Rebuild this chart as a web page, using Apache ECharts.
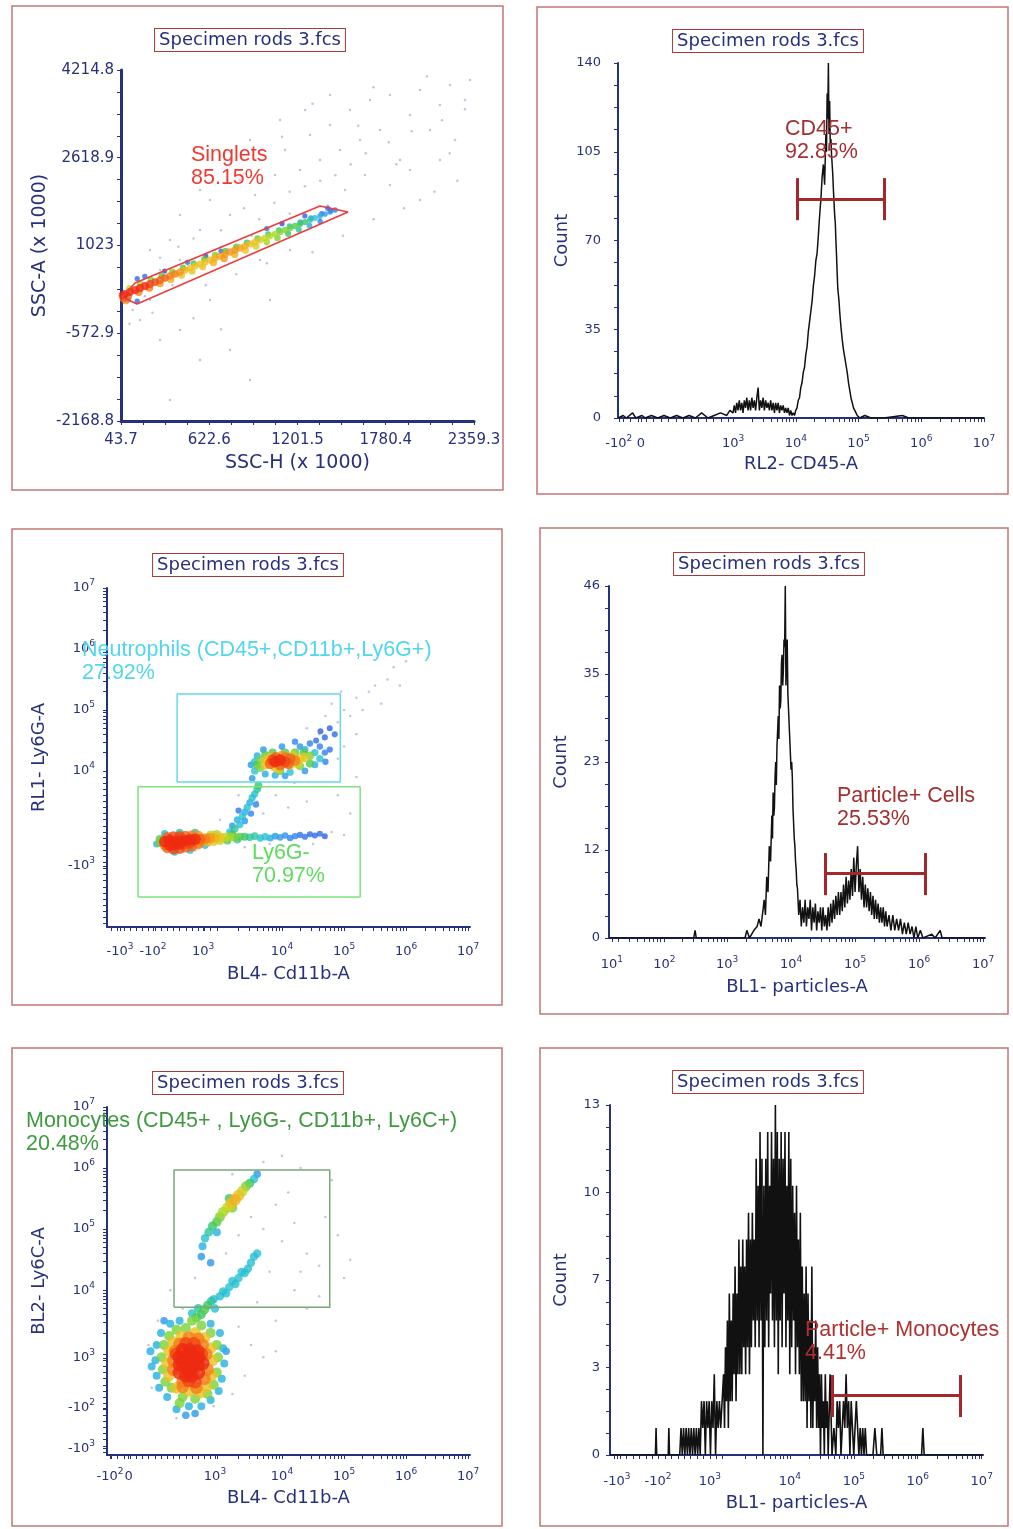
<!DOCTYPE html>
<html>
<head>
<meta charset="utf-8">
<title>Specimen rods 3.fcs</title>
<script src="https://cdn.jsdelivr.net/npm/echarts@6/dist/echarts.min.js"></script>
<style>
  html, body { margin: 0; padding: 0; background: #fff; }
  #main { width: 1013px; height: 1529px; }
</style>
</head>
<body>
<div id="main"></div>
<script>
// ---- panel 1: singlets (SSC-H vs SSC-A, x1000) ----
const p1XTicks = [43.7, 622.6, 1201.5, 1780.4, 2359.3];
const p1XLabels = ['43.7', '622.6', '1201.5', '1780.4', '2359.3'];
const p1YTicks = [-2168.8, -572.9, 1023, 2618.9, 4214.8];
const p1YLabels = ['-2168.8', '-572.9', '1023', '2618.9', '4214.8'];
// [SSC-H, SSC-A, density]
const singletBand = [
  [55,120,1],[70,140,1],[136,213,1],[201,285,1],[267,358,0.95],[332,431,0.9],[398,504,0.85],[463,576,0.75],
  [529,649,0.7],[595,722,0.7],[660,794,0.75],[726,868,0.8],[792,941,0.8],[857,1013,0.75],[923,1086,0.7],
  [988,1158,0.6],[1054,1231,0.55],[1120,1304,0.5],[1185,1377,0.45],[1251,1450,0.4],[1316,1522,0.3],
  [1382,1595,0.2],[1448,1668,0.15],
  [103,176,1],[168,249,1],[234,322,0.95],[300,395,0.9],[365,467,0.85],[431,540,0.8],[496,613,0.7],
  [562,686,0.7],[628,758,0.72],[693,831,0.78],[759,904,0.8],[825,977,0.78],[890,1050,0.72],[956,1122,0.65],
  [1021,1195,0.58],[1087,1268,0.52],[1152,1340,0.48],[1218,1413,0.42],[1284,1486,0.35],[1349,1559,0.25],
  [1415,1631,0.18],
  [100,245,0.6],[170,320,0.55],[240,395,0.5],[310,470,0.45],[380,545,0.5],[450,620,0.45],[520,700,0.4],
  [590,775,0.45],[660,850,0.5],[730,925,0.45],[800,1000,0.45],[870,1075,0.4],[940,1150,0.45],[1010,1225,0.4],
  [1080,1300,0.35],[1150,1375,0.3],[1220,1450,0.25],[1290,1520,0.2],[1360,1600,0.12],[1420,1660,0.1],
  [90,100,0.9],[160,175,0.85],[230,250,0.85],[300,330,0.8],[370,405,0.75],[440,480,0.7],[510,555,0.7],
  [580,635,0.7],[650,710,0.75],[720,785,0.8],[790,860,0.75],[860,935,0.7],[930,1010,0.65],[1000,1085,0.55],
  [1070,1160,0.5],[1140,1235,0.4],[1210,1310,0.35],[1280,1385,0.25],[1350,1460,0.15],
  [60,60,0.9],[75,20,0.8],[150,420,0.1],[200,460,0.1],[480,720,0.15],[700,920,0.1],[1000,1330,0.1],[1250,1560,0.08],
  [1400,1700,0.08],[90,30,0.15],[150,10,0.1],[330,560,0.05],[600,830,0.05],[1100,1420,0.05]
];
const p1Sparse = [
  [234,940],[365,1122],[431,1577],[562,1304],[628,1850],[759,1577],[824,2214],[923,1941],[956,2578],
  [1054,2305],[1120,2760],[1218,2396],[1284,3032],[1349,2578],[1415,3214],[1480,2760],[1546,3487],
  [1612,2941],[1677,3669],[1743,3123],[1808,3760],[1874,2578],[1940,3396],[2005,3851],[2071,3123],
  [2136,3578],[2202,3942],[2235,2941],[2300,3669],[1218,1304],[1349,1486],[1513,2032],[1644,2305],
  [1808,2123],[1940,2396],[1087,3305],[890,2941],[759,2578],[562,2032],[431,758],[300,577],[168,-333],
  [300,-696],[431,-515],[562,-1060],[759,-878],[890,-1424],[365,-1788],[628,31],[956,758],[1152,940],
  [1021,31],[234,31],[2136,2578],[2333,4033],[1415,3760],[1251,3487],[660,940],[2005,1850],
  [100,-400],[250,-200],[600,300],[800,500],[1000,700],[1300,900],[1500,1200],[1700,1500],[1900,1700],
  [2100,2000],[2250,2200],[1600,3200],[1150,2000],[950,1500],
  [300,800],[420,1000],[520,1150],[700,1300],[850,1700],[1050,1800],[1250,2100],[1450,2300],[1650,2700],
  [1800,2900],[1950,3100],[2150,3300],[2300,3500],[1550,2500],[1350,2200],[1150,1600],[900,1200],
  [700,1000],[480,700],[380,300],[200,100],[120,-150],[520,-300],[700,-500],[1100,3000],[1300,3600],
  [1700,3900],[2050,4100],[1850,2500],[2200,2700],[1400,1750],[1000,1050]
];
const singletGate = [[50.3,85.7],[135.5,340.3],[1349,1741],[1533,1632],[148.7,-41.7]];

// ---- panel 2: CD45 histogram (x in display decades) ----
const p2XTicks = [1.18, 1.53, 3, 4, 5, 6, 7];
const p2XLabels = ['-10^2', '0', '10^3', '10^4', '10^5', '10^6', '10^7'];
const p2YTicks = [0, 35, 70, 105, 140];
const p2YLabels = ['0', '35', '70', '105', '140'];
const cd45Hist = [
  [1.17,0],[1.25,1],[1.3,0],[1.4,2],[1.45,0],[1.55,1],[1.6,0],[1.7,1],[1.8,0],[1.9,1],[2.0,0],[2.1,1],
  [2.2,0],[2.3,1],[2.4,0],[2.5,2],[2.6,0],[2.7,1],[2.8,2],[2.9,1],[2.95,3],
  [3.0,2],[3.02,5],[3.04,2],[3.06,6],[3.08,3],[3.1,7],[3.12,3],[3.14,6],[3.16,2],[3.18,7],[3.2,4],
  [3.22,8],[3.24,3],[3.26,7],[3.28,3],[3.3,8],[3.32,4],[3.34,7],[3.36,3],[3.38,8],[3.4,12],[3.42,3],
  [3.44,7],[3.46,4],[3.48,8],[3.5,3],[3.52,7],[3.54,4],[3.56,6],[3.58,3],[3.6,7],[3.62,3],[3.64,6],
  [3.66,2],[3.68,6],[3.7,3],[3.72,6],[3.74,2],[3.76,5],[3.78,3],[3.8,5],[3.82,2],[3.84,4],[3.86,2],
  [3.88,4],[3.9,1],[3.92,3],[3.94,1],
  [3.96,2],[3.98,1],[4.0,3],[4.02,4],[4.04,7],[4.06,8],[4.08,12],[4.1,14],[4.12,18],[4.14,20],[4.16,25],
  [4.18,28],[4.2,34],[4.22,38],[4.24,42],[4.26,46],[4.28,52],[4.3,56],[4.32,62],[4.34,65],[4.36,72],
  [4.37,76],[4.39,83],[4.4,86],[4.42,95],[4.44,100],[4.46,92],[4.48,112],[4.49,105],[4.5,128],[4.51,118],
  [4.52,140],[4.53,112],[4.54,125],[4.55,108],[4.56,110],[4.57,104],[4.58,100],[4.59,96],[4.6,90],
  [4.61,85],[4.62,80],[4.63,77],[4.64,70],[4.65,64],[4.66,57],[4.67,51],[4.69,46],[4.7,42],[4.72,36],
  [4.74,31],[4.76,27],[4.78,24],[4.8,21],[4.82,18],[4.84,14],[4.86,11],[4.88,8],[4.9,6],[4.92,4],
  [4.94,3],[4.96,2],[4.98,1],[5.02,0],[5.1,1],[5.2,0],[5.4,0],[5.7,1],[5.8,0],[6.2,0],[7.0,0]
];
const cd45Gate = [4.02, 5.41, 86.4, 78, 94.6]; // from, to, level, capLow, capHigh

// ---- panel 3: Ly6G vs Cd11b ----
const p3XTicks = [1.39, 1.92, 2.73, 4, 5, 6, 7];
const p3XLabels = ['-10^3', '-10^2', '10^3', '10^4', '10^5', '10^6', '10^7'];
const p3YTicks = [2.44, 4, 5, 6, 7];
const p3YLabels = ['-10^3', '10^4', '10^5', '10^6', '10^7'];
const neutroDots = [
  [2.11,2.84,1],[2.19,2.86,1],[2.27,2.84,1],[2.35,2.85,1],[2.44,2.86,1],[2.52,2.87,1],[2.60,2.88,1],
  [2.19,2.78,1],[2.27,2.79,1],[2.35,2.80,1],[2.44,2.81,0.95],[2.52,2.82,0.95],[2.68,2.88,0.9],[2.76,2.89,0.85],
  [2.15,2.74,0.9],[2.25,2.72,0.95],[2.35,2.73,0.95],[2.45,2.75,0.9],[2.55,2.77,0.9],[2.65,2.80,0.85],
  [2.15,2.91,0.9],[2.25,2.92,0.95],[2.35,2.92,0.95],[2.45,2.93,0.9],[2.55,2.94,0.85],[2.65,2.94,0.8],
  [2.84,2.90,0.8],[2.92,2.90,0.75],[3.0,2.91,0.7],[2.68,2.83,0.8],[2.11,2.79,0.85],[2.8,2.84,0.75],
  [2.9,2.85,0.7],[3.0,2.86,0.6],[2.85,2.95,0.6],[2.95,2.96,0.55],
  [3.08,2.91,0.6],[3.16,2.92,0.55],[3.24,2.91,0.5],[3.32,2.92,0.45],[2.03,2.82,0.5],[2.03,2.88,0.45],
  [3.12,2.86,0.45],[3.2,2.96,0.4],[3.28,2.87,0.35],
  [3.40,2.92,0.4],[3.48,2.91,0.35],[3.56,2.93,0.35],[3.65,2.90,0.3],[3.73,2.92,0.3],[3.81,2.90,0.25],
  [3.89,2.93,0.2],[3.97,2.91,0.2],[4.05,2.94,0.18],[4.13,2.90,0.15],[4.21,2.93,0.15],[4.29,2.95,0.12],
  [4.37,2.92,0.12],[4.45,2.96,0.1],[4.53,2.94,0.1],[4.61,2.97,0.1],[4.69,2.93,0.08],
  [2.11,2.97,0.3],[2.35,2.99,0.35],[2.60,2.99,0.35],[2.27,2.67,0.3],[2.52,2.70,0.3],[2.76,2.78,0.3],[1.98,2.8,0.25],
  [3.16,3.0,0.3],[3.24,3.05,0.35],[3.32,3.12,0.3],[3.28,3.2,0.25],[3.36,3.25,0.3],[3.40,3.32,0.25],
  [3.44,3.4,0.3],[3.48,3.48,0.25],[3.52,3.56,0.3],[3.56,3.62,0.3],[3.60,3.70,0.35],[3.62,3.76,0.4],
  [3.40,3.18,0.2],[3.50,3.30,0.15],[3.30,3.35,0.12],[3.58,3.45,0.15],[3.20,3.10,0.2],
  [3.89,4.15,1],[3.97,4.18,1],[4.05,4.15,0.95],[4.13,4.20,0.9],[3.81,4.12,0.9],[4.21,4.17,0.85],
  [3.97,4.10,0.9],[4.05,4.22,0.85],[3.9,4.22,0.9],[4.1,4.12,0.9],[3.85,4.18,0.95],[4.0,4.25,0.8],
  [3.73,4.10,0.7],[4.29,4.20,0.7],[4.37,4.22,0.65],[3.81,4.22,0.7],[4.13,4.10,0.7],[3.89,4.06,0.7],
  [3.75,4.18,0.7],[4.25,4.12,0.65],[4.18,4.26,0.65],[3.95,4.03,0.65],
  [3.65,4.05,0.5],[3.65,4.18,0.5],[4.45,4.25,0.5],[4.45,4.12,0.45],[4.29,4.08,0.5],[3.73,4.26,0.45],
  [4.05,4.30,0.45],[4.21,4.30,0.45],[3.97,4.00,0.45],[3.85,4.30,0.45],[4.35,4.30,0.45],[3.6,4.1,0.45],
  [3.56,4.00,0.3],[3.56,4.15,0.3],[3.60,4.25,0.25],[4.53,4.30,0.3],[4.61,4.20,0.3],[4.53,4.10,0.25],
  [4.37,4.35,0.25],[4.29,4.40,0.2],[4.45,4.45,0.15],[4.61,4.40,0.15],[4.69,4.30,0.15],[4.77,4.35,0.12],
  [3.73,3.95,0.25],[3.89,3.93,0.25],[4.13,3.98,0.3],[4.37,4.00,0.2],[3.52,3.88,0.2],[4.21,4.48,0.15],
  [4.69,4.55,0.1],[4.85,4.60,0.1],[4.77,4.70,0.08],[3.5,4.1,0.2],[4.7,4.15,0.15],[4.05,3.92,0.2],
  [3.7,4.35,0.2],[4.0,4.4,0.2],[4.55,4.5,0.1],[4.62,4.65,0.08]
];
const p3Sparse = [
  [4.9,4.8],[5.0,5.0],[4.8,5.1],[5.1,4.9],[5.2,5.2],[5.3,5.0],[4.95,5.3],[5.4,5.3],[5.6,5.1],[5.5,5.4],
  [5.7,5.5],[4.7,4.9],[4.6,4.6],[5.0,4.4],[4.9,4.2],[5.2,4.6],[3.9,3.6],[4.2,3.8],[3.7,3.3],[4.4,3.5],
  [3.0,3.2],[2.9,3.0],[4.8,3.0],[5.0,2.95],[4.5,2.8],[2.4,3.0],[2.6,2.7],[3.4,2.75],[3.8,2.8],[5.2,3.9],
  [5.8,5.7],[4.4,4.7],[3.6,3.5],[4.1,3.4],[4.9,3.6],[5.1,3.3],[3.3,3.6],[5.9,5.4],[6.0,5.8]
];
const neutroGate = [2.31, 4.94, 3.82, 5.26];   // x1, x2, y1, y2
const ly6gNegGate = [1.68, 5.26, 1.93, 3.74];

// ---- panel 4: particles histogram (all cells) ----
const p4XTicks = [1.2, 2.02, 3, 4, 5, 6, 7];
const p4XLabels = ['10^1', '10^2', '10^3', '10^4', '10^5', '10^6', '10^7'];
const p4YTicks = [0, 11.5, 23, 34.5, 46];
const p4YLabels = ['0', '12', '23', '35', '46'];
const particleHist = [
  [1.16,0],[2.2,0],[2.48,0],[2.5,1],[2.52,0],[3.28,0],[3.31,1],[3.35,0],[3.42,1],[3.47,1.5],[3.5,2.5],
  [3.53,1.5],[3.56,3.5],[3.58,5],[3.6,3],[3.62,8],[3.64,6],[3.66,12],[3.68,10],[3.7,16],[3.71,13],[3.72,19],
  [3.73,16],[3.74,17],[3.75,21],[3.76,23],[3.77,20],[3.78,25],[3.79,27],[3.8,29],[3.81,26],[3.82,33],
  [3.83,30],[3.84,31],[3.85,36],[3.86,37],[3.87,33],[3.88,35],[3.89,39],[3.9,38],[3.91,46],[3.92,33],
  [3.93,36],[3.94,39],[3.95,32],[3.96,30],[3.97,28],[3.98,26],[3.99,24],[4.0,22],[4.01,23],[4.02,21],
  [4.03,17],[4.04,15],[4.05,13],[4.06,12],[4.07,10],[4.08,9],[4.09,7],[4.1,6.5],
  [4.12,3],[4.14,5],[4.16,1.5],[4.18,4],[4.2,2],[4.22,5],[4.24,1.5],[4.26,4],[4.28,2.5],[4.3,5],[4.32,1],
  [4.34,4],[4.36,2],[4.38,4.5],[4.4,1],[4.42,3.5],[4.44,2],[4.46,4],[4.48,1],[4.5,4],[4.52,1.5],[4.54,3],
  [4.56,1],[4.58,4],[4.6,1.5],[4.62,4.5],[4.64,2],[4.66,5],[4.68,2.5],[4.7,5.5],[4.72,3],[4.74,6],[4.76,3],
  [4.78,6],[4.8,3.5],[4.82,7],[4.84,4],[4.86,8],[4.88,4.5],[4.9,7.5],[4.92,5],[4.94,9],[4.96,5.5],
  [4.98,10.5],[5.0,6],[5.02,9.5],[5.04,12],[5.06,6],[5.08,9],[5.1,5],[5.12,8],[5.14,4],[5.16,7],[5.18,4],
  [5.2,6.5],[5.22,3.5],[5.24,6],[5.26,3],[5.28,5.5],[5.3,2.5],[5.32,5],[5.34,2.5],[5.36,4.5],[5.38,2],
  [5.4,4],[5.42,2],[5.44,4],[5.46,1.5],[5.48,3.5],[5.5,1.5],[5.53,3],[5.56,1],[5.59,3],[5.62,1],[5.65,2.5],
  [5.68,1],[5.71,2.5],[5.74,0.5],[5.77,2],[5.8,0.5],[5.83,2],[5.86,0.5],[5.89,1.5],[5.92,0],[5.95,1.5],
  [5.98,0],[6.02,1],[6.06,0],[6.2,0.5],[6.25,0],[6.33,1],[6.36,0],[7.03,0]
];
const particleGate = [4.53, 6.09, 8.5, 5.6, 11.1];

// ---- panel 5: Ly6C vs Cd11b ----
const p5XTicks = [1.23, 1.53, 2.92, 4, 5, 6, 7];
const p5XLabels = ['-10^2', '0', '10^3', '10^4', '10^5', '10^6', '10^7'];
const p5YTicks = [1.41, 2.07, 2.89, 4, 5, 6, 7];
const p5YLabels = ['-10^3', '-10^2', '10^3', '10^4', '10^5', '10^6', '10^7'];
const monoDots = [
  [2.35,2.65,1],[2.45,2.6,1],[2.55,2.6,1],[2.65,2.65,1],[2.35,2.78,1],[2.45,2.75,1],[2.55,2.75,1],
  [2.65,2.78,1],[2.72,2.8,1],[2.35,2.9,1],[2.45,2.9,1],[2.55,2.9,1],[2.65,2.9,1],[2.4,3.02,1],
  [2.52,3.02,1],[2.64,3.0,1],[2.45,3.12,0.95],[2.58,3.12,0.95],[2.5,2.52,0.95],[2.6,2.5,0.95],
  [2.5,2.68,1],[2.6,2.83,1],[2.4,2.84,1],[2.5,2.96,1],[2.7,2.95,0.95],[2.3,2.95,0.95],
  [2.25,2.7,0.85],[2.25,2.85,0.85],[2.28,3.0,0.85],[2.35,3.12,0.85],[2.72,3.1,0.85],[2.78,2.95,0.85],
  [2.8,2.7,0.85],[2.75,2.55,0.85],[2.4,2.5,0.85],[2.5,3.22,0.85],[2.65,3.2,0.85],[2.4,2.42,0.85],[2.62,2.4,0.85],
  [2.18,2.6,0.7],[2.15,2.8,0.7],[2.18,3.0,0.7],[2.25,3.15,0.7],[2.38,3.25,0.7],[2.6,3.3,0.7],[2.75,3.22,0.7],
  [2.85,3.05,0.7],[2.88,2.85,0.7],[2.86,2.6,0.7],[2.78,2.42,0.7],[2.3,2.4,0.7],[2.5,2.35,0.7],[2.68,2.32,0.7],
  [2.08,2.7,0.5],[2.06,2.9,0.5],[2.1,3.1,0.5],[2.18,3.25,0.5],[2.3,3.35,0.5],[2.45,3.38,0.5],[2.7,3.42,0.5],
  [2.85,3.3,0.5],[2.95,3.1,0.5],[2.97,2.9,0.5],[2.95,2.65,0.5],[2.9,2.45,0.5],[2.8,2.3,0.5],[2.6,2.22,0.5],
  [2.4,2.25,0.5],[2.22,2.4,0.5],[2.12,2.5,0.5],[2.55,3.5,0.5],[2.35,2.15,0.5],
  [1.98,2.6,0.25],[1.96,2.85,0.25],[1.98,3.1,0.25],[2.05,3.3,0.25],[2.2,3.45,0.25],[2.35,3.5,0.25],
  [2.85,3.45,0.25],[3.0,3.3,0.25],[3.05,3.05,0.25],[3.07,2.8,0.25],[3.03,2.55,0.25],[2.98,2.35,0.25],
  [2.85,2.2,0.25],[2.7,2.1,0.25],[2.5,2.1,0.25],[2.3,2.05,0.25],[2.15,2.25,0.25],[2.02,2.4,0.25],
  [1.9,2.75,0.25],[1.88,3.0,0.25],[2.45,1.95,0.2],[2.6,1.98,0.2],[3.1,3.0,0.2],[2.1,3.5,0.2],
  [2.62,3.55,0.45],[2.7,3.6,0.4],[2.75,3.68,0.45],[2.65,3.7,0.35],[2.8,3.75,0.4],[2.86,3.82,0.35],
  [2.55,3.62,0.3],[2.92,3.7,0.3],
  [2.90,3.85,0.3],[3.0,3.90,0.3],[3.05,3.98,0.3],[3.15,4.05,0.3],[3.20,4.15,0.3],[3.30,4.20,0.3],
  [3.35,4.30,0.3],[3.45,4.35,0.3],[3.50,4.45,0.3],[3.55,4.55,0.3],[3.60,4.60,0.3],[3.10,3.95,0.3],
  [3.25,4.10,0.3],[3.40,4.28,0.3],
  [2.76,4.85,0.3],[2.82,4.95,0.35],[2.88,5.05,0.4],[2.95,5.12,0.45],[3.0,5.2,0.5],[3.05,5.28,0.55],
  [3.12,5.35,0.6],[3.18,5.42,0.7],[3.24,5.48,0.75],[3.30,5.55,0.7],[3.36,5.62,0.6],[3.42,5.70,0.5],
  [3.48,5.75,0.4],[3.55,5.82,0.3],[3.60,5.90,0.2],[2.72,4.72,0.25],[2.95,4.95,0.25],[3.2,5.35,0.5],
  [3.15,5.5,0.4],[2.7,4.55,0.2],[2.85,4.45,0.2]
];
const p5Sparse = [
  [3.3,4.9],[3.5,5.2],[3.7,5.0],[3.9,5.4],[4.0,4.8],[4.2,5.1],[4.1,5.6],[4.4,4.6],[3.8,4.3],[4.2,4.0],
  [4.6,4.4],[3.6,3.8],[3.9,3.5],[3.3,3.4],[4.4,3.7],[4.7,5.2],[4.9,4.9],[5.1,4.5],[3.4,2.6],[3.7,2.9],
  [3.9,3.0],[2.0,3.5],[1.9,2.4],[2.3,1.9],[2.9,2.1],[1.85,3.1],[3.2,5.9],[3.7,6.1],[4.3,6.0],[4.0,6.2],
  [4.8,5.8],[5.0,4.2],[2.4,3.7],[2.2,4.0],[4.3,4.3],[3.5,3.1],[3.2,2.3],[4.6,3.9],[3.1,4.6],[2.6,4.2]
];
const monoGate = [2.26, 4.77, 3.72, 5.97];

// ---- panel 6: particles histogram (monocytes) ----
const p6XTicks = [1.30, 1.94, 2.75, 4, 5, 6, 7];
const p6XLabels = ['-10^3', '-10^2', '10^3', '10^4', '10^5', '10^6', '10^7'];
const p6YTicks = [0, 3.25, 6.5, 9.75, 13];
const p6YLabels = ['0', '3', '7', '10', '13'];
const monoHist = [
  [1.19,0],[1.9,0],[1.91,1],[1.92,0],[2.1,0],[2.11,1],[2.12,0],
  [2.28,0],[2.30,1],[2.32,0],[2.34,1],[2.36,0],[2.38,1],[2.40,0],[2.42,1],[2.44,0],[2.46,1],[2.48,0],
  [2.50,1],[2.52,0],[2.54,1],[2.56,0],[2.58,1],[2.60,0],[2.62,2],[2.64,1],[2.66,2],[2.68,0],[2.70,2],
  [2.72,1],[2.74,2],[2.76,0],[2.78,2],[2.80,1],[2.82,3],[2.84,0],[2.86,2],[2.88,1],[2.90,2],[2.92,1],
  [2.950,1],[2.965,3],[2.980,1],[2.995,4],[3.010,2],[3.025,5],[3.040,1],[3.055,6],[3.070,2],[3.085,5],
  [3.100,2],[3.115,6],[3.130,3],[3.145,7],[3.160,2],[3.175,6],[3.190,3],[3.205,8],[3.220,3],[3.235,7],
  [3.250,3],[3.265,8],[3.280,4],[3.295,7],[3.310,3],[3.325,8],[3.340,4],[3.355,9],[3.370,3],[3.385,8],
  [3.400,4],[3.415,9],[3.430,5],[3.445,8],[3.460,4],[3.475,11],[3.490,5],[3.505,10],[3.520,4],[3.535,12],
  [3.550,5],[3.565,11],[3.580,0],[3.595,10],[3.610,4],[3.625,11],[3.640,5],[3.655,12],[3.670,4],[3.685,10],
  [3.700,6],[3.715,12],[3.730,5],[3.745,11],[3.760,4],[3.775,13],[3.790,5],[3.805,12],[3.820,3],[3.835,11],
  [3.850,5],[3.865,12],[3.880,4],[3.895,11],[3.910,6],[3.925,12],[3.940,4],[3.955,10],[3.970,5],[3.985,12],
  [4.000,3],[4.015,11],[4.030,4],[4.045,10],[4.060,5],[4.075,9],[4.090,3],[4.105,10],[4.120,4],[4.135,8],
  [4.150,3],[4.165,9],[4.180,2],[4.195,7],[4.210,2],[4.225,6],[4.240,2],[4.255,7],[4.270,1],[4.285,6],
  [4.300,2],[4.315,5],[4.330,1],[4.345,7],[4.360,1],[4.375,4],[4.390,2],[4.405,5],[4.420,1],[4.435,4],
  [4.450,1],[4.465,3],[4.480,0],[4.495,3],[4.510,1],[4.525,2],[4.540,0],[4.555,3],[4.570,1],[4.585,2],
  [4.600,0],[4.63,3],[4.66,0],[4.69,1],[4.72,0],[4.74,2],[4.76,1],[4.78,2],[4.80,0],[4.82,1],[4.84,2],
  [4.86,1],[4.88,3],[4.90,1],[4.92,2],[4.94,0],[4.96,2],[4.98,1],[5.00,0],[5.02,1],[5.04,2],[5.06,1],
  [5.08,0],[5.10,1],[5.12,0],[5.14,1],[5.16,0],[5.18,1],[5.20,0],[5.23,0],[5.30,0],[5.33,1],[5.36,0],
  [5.42,0],[5.44,1],[5.46,0],[6.06,0],[6.08,1],[6.10,0],[7.02,0]
];
const monoParticleGate = [4.66, 6.66, 2.23, 1.41, 2.97];

// ---------------------------------------------------------------
const NAVY = '#27307a';
const FONT = 'DejaVu Sans';

function linMinors(ticks, parts) {
  let out = [];
  for (let i = 0; i < ticks.length - 1; i++) {
    for (let j = 1; j < parts; j++) out.push(ticks[i] + (ticks[i + 1] - ticks[i]) * j / parts);
  }
  return out;
}
function logMinors(from, to, low, lowStep) {
  let out = [];
  for (let k = from; k < to; k++) {
    for (let m = 2; m < 10; m++) out.push(k + Math.log10(m));
  }
  for (let v = low; v < from; v += lowStep) out.push(v);
  return out;
}
// '10^3' -> base with raised exponent
function richLabel(s) {
  let p = s.split('^');
  return p.length < 2 ? '{b|' + s + '}' : '{b|' + p[0] + '}{s|' + p[1] + '}';
}

function axis(grid, min, max, ticks, labels, minors, name, gap, opt) {
  opt = opt || {};
  const fs = opt.labelSize || 12;
  return {
    type: 'value', gridIndex: grid, min: min, max: max,
    name: name, nameLocation: 'middle', nameGap: gap,
    nameTextStyle: { color: NAVY, fontSize: opt.nameSize || 18, fontFamily: FONT },
    axisLine: { show: true, onZero: false, lineStyle: { color: NAVY, width: opt.lineWidth || 2 } },
    axisTick: { show: true, customValues: ticks.concat(minors), length: 4, lineStyle: { color: NAVY, width: 1 } },
    axisLabel: {
      customValues: ticks, color: NAVY, fontSize: fs, fontFamily: FONT,
      margin: opt.margin || 6,
      formatter: function (v) {
        let i = ticks.findIndex(t => Math.abs(t - v) < 1e-6);
        return i < 0 ? '' : richLabel(labels[i]);
      },
      rich: {
        b: { color: NAVY, fontSize: fs, fontFamily: FONT, lineHeight: fs + 6 },
        s: { color: NAVY, fontSize: fs - 4, fontFamily: FONT, lineHeight: fs - 3, verticalAlign: 'top' }
      }
    },
    splitLine: { show: false }
  };
}

function rectPath(g) {
  return [[g[0], g[2]], [g[1], g[2]], [g[1], g[3]], [g[0], g[3]], [g[0], g[2]]];
}
function closedPath(pts) { return pts.concat([pts[0]]); }
function byDensity(arr) { return arr.slice().sort((a, b) => a[2] - b[2]); }
function barGate(g) {
  return {
    silent: true, symbol: ['none', 'none'], label: { show: false },
    lineStyle: { color: '#a3282b', width: 3, type: 'solid' },
    emphasis: { disabled: true },
    data: [
      [{ coord: [g[0], g[2]] }, { coord: [g[1], g[2]] }],
      [{ coord: [g[0], g[3]] }, { coord: [g[0], g[4]] }],
      [{ coord: [g[1], g[3]] }, { coord: [g[1], g[4]] }]
    ]
  };
}

const grids = [
  { left: 121, top: 70, width: 353, height: 351 },
  { left: 618, top: 63, width: 366, height: 355 },
  { left: 107, top: 588, width: 363, height: 339 },
  { left: 609, top: 586, width: 376, height: 352 },
  { left: 107, top: 1107, width: 363, height: 348 },
  { left: 610, top: 1105, width: 373, height: 350 }
];

const xAxes = [
  axis(0, 43.7, 2359.3, p1XTicks, p1XLabels, linMinors(p1XTicks, 4), 'SSC-H (x 1000)', 33, { labelSize: 15, lineWidth: 3, nameSize: 19, margin: 9 }),
  axis(1, 1.167, 7.0, p2XTicks, p2XLabels, logMinors(3, 7, 1.25, 0.12), 'RL2- CD45-A', 37, { margin: 16, labelSize: 13 }),
  axis(2, 1.18, 7.03, p3XTicks, p3XLabels, logMinors(3, 7, 1.25, 0.1), 'BL4- Cd11b-A', 38, { margin: 15, labelSize: 13 }),
  axis(3, 1.156, 7.03, p4XTicks, p4XLabels, logMinors(1, 7, 1.2, 1), 'BL1- particles-A', 40, { margin: 17, labelSize: 13 }),
  axis(4, 1.18, 7.03, p5XTicks, p5XLabels, logMinors(3, 7, 1.25, 0.1), 'BL4- Cd11b-A', 34, { margin: 12, labelSize: 13 }),
  axis(5, 1.19, 7.02, p6XTicks, p6XLabels, logMinors(3, 7, 1.25, 0.1), 'BL1- particles-A', 39, { margin: 17, labelSize: 13 })
];
const yAxes = [
  axis(0, -2168.8, 4214.8, p1YTicks, p1YLabels, linMinors(p1YTicks, 4), 'SSC-A (x 1000)', 71, { labelSize: 15, lineWidth: 3, nameSize: 19, margin: 7 }),
  axis(1, 0, 140, p2YTicks, p2YLabels, linMinors(p2YTicks, 4), 'Count', 47, { margin: 17, labelSize: 13 }),
  axis(2, 1.44, 7, p3YTicks, p3YLabels, logMinors(4, 7, 1.5, 0.1), 'RL1- Ly6G-A', 59, { margin: 12, labelSize: 13 }),
  axis(3, 0, 46, p4YTicks, p4YLabels, linMinors(p4YTicks, 4), 'Count', 39, { margin: 9, labelSize: 13 }),
  axis(4, 1.30, 7, p5YTicks, p5YLabels, logMinors(3, 7, 1.35, 0.1), 'BL2- Ly6C-A', 59, { margin: 12, labelSize: 13 }),
  axis(5, 0, 13, p6YTicks, p6YLabels, linMinors(p6YTicks, 4), 'Count', 40, { margin: 10, labelSize: 13 })
];

const series = [];
const densityIdx = [];
function add(s, dens) { if (dens) densityIdx.push(series.length); series.push(s); }

const sparseStyle = { color: '#a9b2d8', opacity: 0.75 };
const densSize = function (k) { return function (v) { return k[0] + v[2] * k[1]; }; };
const histLine = function (w) { return { color: '#111', width: w }; };

// panel 1
add({ type: 'scatter', xAxisIndex: 0, yAxisIndex: 0, data: p1Sparse, symbolSize: 2.5, itemStyle: sparseStyle, silent: true });
add({ type: 'scatter', xAxisIndex: 0, yAxisIndex: 0, data: byDensity(singletBand), symbolSize: densSize([5, 3]), silent: true }, true);
add({ type: 'line', xAxisIndex: 0, yAxisIndex: 0, data: closedPath(singletGate), symbol: 'none', lineStyle: { color: '#ee3b3b', width: 1.5 }, silent: true });
// panel 2
add({ type: 'line', xAxisIndex: 1, yAxisIndex: 1, data: cd45Hist, symbol: 'none', lineStyle: histLine(1.5), silent: true, markLine: barGate(cd45Gate) });
// panel 3
add({ type: 'scatter', xAxisIndex: 2, yAxisIndex: 2, data: p3Sparse, symbolSize: 2.5, itemStyle: sparseStyle, silent: true });
add({ type: 'scatter', xAxisIndex: 2, yAxisIndex: 2, data: byDensity(neutroDots), symbolSize: densSize([5.5, 6]), silent: true }, true);
add({ type: 'line', xAxisIndex: 2, yAxisIndex: 2, data: rectPath(neutroGate), symbol: 'none', lineStyle: { color: '#66d8ea', width: 1.5 }, silent: true });
add({ type: 'line', xAxisIndex: 2, yAxisIndex: 2, data: rectPath(ly6gNegGate), symbol: 'none', lineStyle: { color: '#7ee27e', width: 1.5 }, silent: true });
// panel 4
add({ type: 'line', xAxisIndex: 3, yAxisIndex: 3, data: particleHist, symbol: 'none', lineStyle: histLine(1.5), silent: true, markLine: barGate(particleGate) });
// panel 5
add({ type: 'scatter', xAxisIndex: 4, yAxisIndex: 4, data: p5Sparse, symbolSize: 2.5, itemStyle: sparseStyle, silent: true });
add({ type: 'scatter', xAxisIndex: 4, yAxisIndex: 4, data: byDensity(monoDots), symbolSize: densSize([6, 8]), silent: true }, true);
add({ type: 'line', xAxisIndex: 4, yAxisIndex: 4, data: rectPath(monoGate), symbol: 'none', lineStyle: { color: '#78a878', width: 1.5 }, silent: true });
// panel 6
add({ type: 'line', xAxisIndex: 5, yAxisIndex: 5, data: monoHist, symbol: 'none', lineStyle: histLine(1.6), silent: true, markLine: barGate(monoParticleGate) });

// frames, title boxes and gate labels
const frames = [[12, 6, 491, 484], [537, 7, 471, 487], [12, 529, 490, 476], [540, 528, 468, 486], [12, 1048, 490, 478], [540, 1048, 468, 478]];
const titleCenters = [[250, 40], [768, 41], [248, 565], [769, 564], [248, 1083], [768, 1082]];
const gateTexts = [
  { x: 191, y: 144, text: 'Singlets\n85.15%', color: '#ee3a30' },
  { x: 785, y: 118, text: 'CD45+\n92.85%', color: '#a33030' },
  { x: 82, y: 639, text: 'Neutrophils (CD45+,CD11b+,Ly6G+)\n27.92%', color: '#52d6ec' },
  { x: 252, y: 842, text: 'Ly6G-\n70.97%', color: '#5fdc5f' },
  { x: 837, y: 785, text: 'Particle+ Cells\n25.53%', color: '#a33030' },
  { x: 26, y: 1110, text: 'Monocytes (CD45+ , Ly6G-, CD11b+, Ly6C+)\n20.48%', color: '#3f9a3f' },
  { x: 805, y: 1319, text: 'Particle+ Monocytes\n4.41%', color: '#b03030' }
];
const graphic = [];
frames.forEach(f => graphic.push({ type: 'rect', shape: { x: f[0], y: f[1], width: f[2], height: f[3] }, style: { fill: 'none', stroke: '#c47676', lineWidth: 1.5 }, z: 1 }));
titleCenters.forEach(c => graphic.push({
  type: 'text', z: 50,
  style: { text: 'Specimen rods 3.fcs', x: c[0], y: c[1], align: 'center', verticalAlign: 'middle', font: '18px "DejaVu Sans"', fill: NAVY, borderColor: '#a83a3a', borderWidth: 1, padding: [2, 4], backgroundColor: '#fff' }
}));
gateTexts.forEach(t => graphic.push({
  type: 'text', z: 60,
  style: { text: t.text, x: t.x, y: t.y, align: 'left', verticalAlign: 'top', font: '21.5px "Liberation Sans"', lineHeight: 23, fill: t.color }
}));

const chart = echarts.init(document.getElementById('main'));
chart.setOption({
  animation: false,
  backgroundColor: '#fff',
  grid: grids,
  xAxis: xAxes,
  yAxis: yAxes,
  visualMap: {
    type: 'continuous', show: false, dimension: 2, min: 0, max: 1, seriesIndex: densityIdx,
    inRange: { color: ['#2a3bd0', '#2f7ff0', '#22c0e0', '#3cc850', '#b8dc20', '#f0c020', '#f57a18', '#ee2a10'] }
  },
  series: series,
  graphic: graphic
});
</script>
</body>
</html>
